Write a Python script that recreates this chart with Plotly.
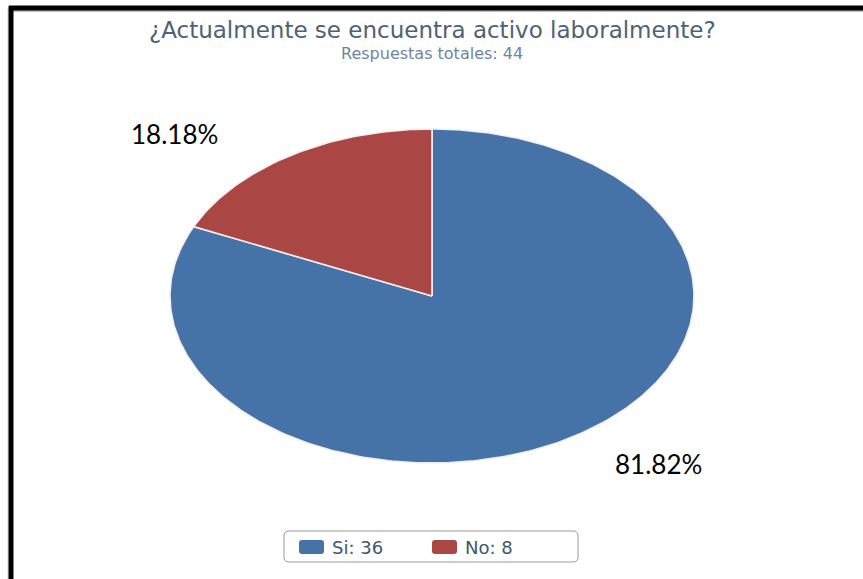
import numpy as np
import plotly.graph_objects as go

# Survey answers
categories = ["Si", "No"]
counts = [36, 8]
colors = ["#4572A7", "#AA4643"]

title_text = "¿Actualmente se encuentra activo laboralmente?"
subtitle_text = "Respuestas totales: 44"

W, H = 863, 579
# pie centre and radii in pixels (the chart is drawn stretched horizontally)
CX, CY, RX, RY = 432, 296, 262, 167


def px(x):
    return x / W


def py(y):
    return 1 - y / H


total = sum(counts)
fracs = [c / total for c in counts]

fig = go.Figure()

# slices drawn clockwise starting at 12 o'clock
start = 0.0
for name, frac, col in zip(categories, fracs, colors):
    t = np.linspace(start, start + frac, max(int(frac * 400), 8))
    ang = np.pi / 2 - 2 * np.pi * t
    xs = np.concatenate([[0], np.cos(ang), [0]])
    ys = np.concatenate([[0], np.sin(ang), [0]])
    fig.add_trace(go.Scatter(
        x=xs, y=ys, mode="lines", fill="toself", fillcolor=col,
        line=dict(color="#F4EEF0", width=1.6), name=name,
        showlegend=False, hoverinfo="skip"))
    start += frac

fig.update_xaxes(range=[-CX / RX, (W - CX) / RX], visible=False, domain=[0, 1])
fig.update_yaxes(range=[-(H - CY) / RY, CY / RY], visible=False, domain=[0, 1])

annotations = [
    dict(text=title_text, x=px(432), y=py(29.5), xref="paper", yref="paper",
         showarrow=False, font=dict(family="DejaVu Sans", size=23, color="#4E6275"),
         xanchor="center", yanchor="middle"),
    dict(text=subtitle_text, x=px(432), y=py(53.5), xref="paper", yref="paper",
         showarrow=False, font=dict(family="DejaVu Sans", size=16, color="#6D869F"),
         xanchor="center", yanchor="middle"),
]

# percentage labels outside the pie
label_pos = [(658, 464), (174, 134)]
for frac, (lx, ly) in zip(fracs, label_pos):
    annotations.append(dict(
        text=f"{frac * 100:.2f}%", x=px(lx), y=py(ly), xref="paper", yref="paper",
        showarrow=False, font=dict(family="Lato", size=26, color="#000000"),
        xanchor="center", yanchor="middle"))

shapes = []


def rounded_rect(x0, y0, x1, y1, r):
    return (f"M{px(x0 + r)},{py(y0)} L{px(x1 - r)},{py(y0)} "
            f"Q{px(x1)},{py(y0)} {px(x1)},{py(y0 + r)} L{px(x1)},{py(y1 - r)} "
            f"Q{px(x1)},{py(y1)} {px(x1 - r)},{py(y1)} L{px(x0 + r)},{py(y1)} "
            f"Q{px(x0)},{py(y1)} {px(x0)},{py(y1 - r)} L{px(x0)},{py(y0 + r)} "
            f"Q{px(x0)},{py(y0)} {px(x0 + r)},{py(y0)} Z")


# legend box
shapes.append(dict(type="path", xref="paper", yref="paper",
                   path=rounded_rect(284, 531, 578, 562, 5),
                   line=dict(color="#9A9A9A", width=1), fillcolor="white"))
legend_x = [299, 432]
for name, cnt, col, lx in zip(categories, counts, colors, legend_x):
    shapes.append(dict(type="path", xref="paper", yref="paper",
                       path=rounded_rect(lx, 540, lx + 25, 554, 3),
                       line=dict(width=0), fillcolor=col))
    annotations.append(dict(
        text=f"{name}: {cnt}", x=px(lx + 31), y=py(547), xref="paper", yref="paper",
        showarrow=False, font=dict(family="DejaVu Sans", size=18, color="#3E576F"),
        xanchor="left", yanchor="middle"))

# outer frame: thin grey chart border and heavy black page border
shapes.append(dict(type="line", xref="paper", yref="paper",
                   x0=px(13), x1=1, y0=py(11), y1=py(11),
                   line=dict(color="#BDBDBD", width=2)))
shapes.append(dict(type="line", xref="paper", yref="paper",
                   x0=px(8), x1=px(8), y0=py(8), y1=0,
                   line=dict(color="#D0D0D0", width=1)))
shapes.append(dict(type="line", xref="paper", yref="paper",
                   x0=px(11), x1=px(11), y0=py(6), y1=0,
                   line=dict(color="#000000", width=5)))
shapes.append(dict(type="line", xref="paper", yref="paper",
                   x0=px(9), x1=1, y0=py(8), y1=py(8),
                   line=dict(color="#000000", width=5)))

fig.update_layout(
    width=W, height=H,
    margin=dict(l=0, r=0, t=0, b=0),
    paper_bgcolor="white", plot_bgcolor="white",
    showlegend=False,
    annotations=annotations,
    shapes=shapes,
)

fig.write_html("out.html")
